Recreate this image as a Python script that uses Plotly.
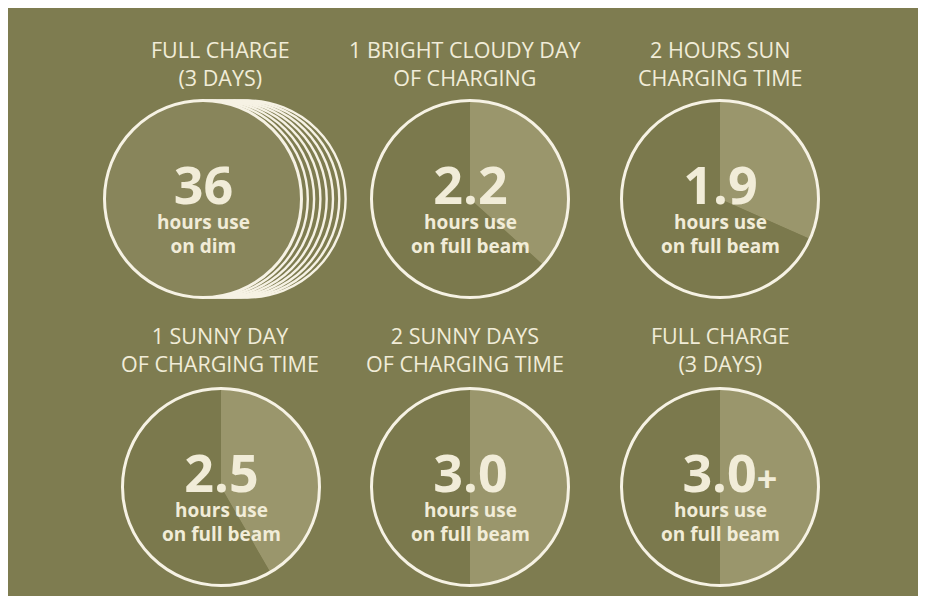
import plotly.graph_objects as go

# ---------------- data ----------------
titles = [
    "FULL CHARGE<br>(3 DAYS)",
    "1 BRIGHT CLOUDY DAY<br>OF CHARGING",
    "2 HOURS SUN<br>CHARGING TIME",
    "1 SUNNY DAY<br>OF CHARGING TIME",
    "2 SUNNY DAYS<br>OF CHARGING TIME",
    "FULL CHARGE<br>(3 DAYS)",
]
hours = [36, 2.2, 1.9, 2.5, 3.0, 3.0]
hour_labels = ["36", "2.2", "1.9", "2.5", "3.0", "3.0"]
hour_suffix = ["", "", "", "", "", "+"]
use_line = ["hours use"] * 6
mode_line = ["on dim", "on full beam", "on full beam", "on full beam", "on full beam", "on full beam"]
beam_scale_max = 6.0      # full circle = 6 hours of full beam
dim_stack_count = 7       # extra stacked rings behind the "36 hours" disc

# ---------------- layout / style (page pixel coordinates) ----------------
W, H = 910, 588           # figure size; page body margin adds the white frame
OFF = 8                   # page body margin
R = 98.5
centers = [(203, 199), (470, 199), (720, 199), (221, 487), (470, 487), (720, 487)]
title_pos = [(220, 63), (465, 63), (720, 63), (220, 349), (465, 349), (720, 349)]
stack_step = 6.3

BG = "#7e7c50"
BASE = "#7b794d"
WEDGE = "#9a966c"
DIM_FILL = "#88855b"
LINE = "#f6f2e4"
TXT = "#f1ecd8"


def px(x):
    return (x - OFF) / W


def py(y):
    return 1 - (y - OFF) / H


def dom(cx, cy, r=R):
    return dict(x=[px(cx - r), px(cx + r)], y=[py(cy + r), py(cy - r)])


fig = go.Figure()

common = dict(sort=False, direction="clockwise", rotation=0, textinfo="none",
              hoverinfo="skip", showlegend=False)

for i, (cx, cy) in enumerate(centers):
    if i == 0:
        for k in range(dim_stack_count, 0, -1):
            fig.add_trace(go.Pie(values=[1], domain=dom(cx + k * stack_step, cy),
                                 marker=dict(colors=[BG], line=dict(color=LINE, width=2.4)),
                                 **common))
        fig.add_trace(go.Pie(values=[1], domain=dom(cx, cy),
                             marker=dict(colors=[DIM_FILL], line=dict(color=LINE, width=3)),
                             **common))
    else:
        v = hours[i]
        fig.add_trace(go.Pie(values=[v, beam_scale_max - v], domain=dom(cx, cy),
                             marker=dict(colors=[WEDGE, BASE], line=dict(width=0)),
                             **common))
        fig.add_trace(go.Pie(values=[1], domain=dom(cx, cy),
                             marker=dict(colors=["rgba(0,0,0,0)"], line=dict(color=LINE, width=3)),
                             **common))

annotations = []
for i, (cx, cy) in enumerate(centers):
    tx, ty = title_pos[i]
    annotations.append(dict(x=px(tx), y=py(ty), xref="paper", yref="paper",
                            text=titles[i], showarrow=False, xanchor="center", yanchor="middle",
                            font=dict(family="Open Sans", size=21.5, color=TXT)))
    num = "<span style='font-size:52px'>" + hour_labels[i] + "</span>"
    if hour_suffix[i]:
        pad = "<span style='font-size:36px'>\u00a0\u00a0</span>"
        num = pad + num + "<span style='font-size:36px'>" + hour_suffix[i] + "</span>"
    block = "<b>" + num + "</b><br><b>" + use_line[i] + "</b><br><b>" + mode_line[i] + "</b>"
    annotations.append(dict(x=px(cx), y=py(cy + 4), xref="paper", yref="paper",
                            text=block, showarrow=False, xanchor="center", yanchor="middle",
                            align="center",
                            font=dict(family="Open Sans", size=19, color=TXT)))

fig.update_layout(
    width=W, height=H,
    margin=dict(l=0, r=0, t=0, b=0),
    paper_bgcolor=BG,
    plot_bgcolor=BG,
    showlegend=False,
    annotations=annotations,
)

fig.write_html("out.html")
